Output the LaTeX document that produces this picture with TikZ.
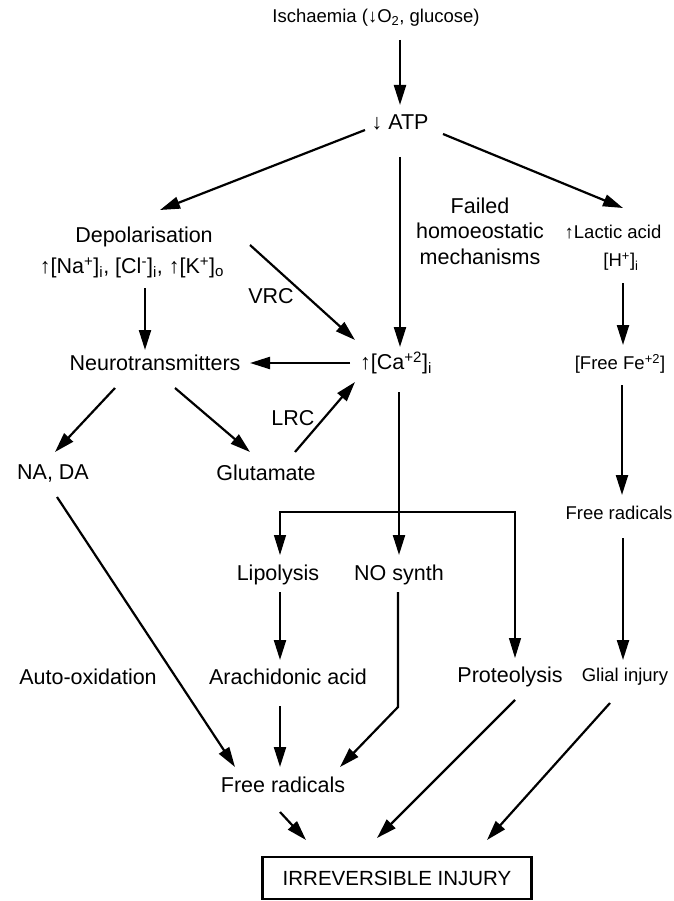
\documentclass[tikz,border=0pt]{standalone}
\usepackage{fontspec}
\setmainfont{Liberation Sans}
\usetikzlibrary{calc,arrows.meta}
\newcommand{\uparw}{{\bfseries ↑}}
\newcommand{\dnarw}{{\bfseries ↓}}
\tikzset{%
  lbl/.style={inner sep=0pt,font=\fontsize{21.5}{25.5}\selectfont},
  slbl/.style={inner sep=0pt,font=\fontsize{18.5}{22}\selectfont},
  arr/.style={draw,line width=2.2pt,-{Triangle[length=20pt,width=12pt]}},
  tarr/.style={draw,line width=1.3pt,-{Triangle[length=20pt,width=12pt]}},
  endbox/.style={draw,line width=2.2pt,inner sep=0pt,minimum width=269pt,minimum height=42pt,font=\fontsize{20.5}{24}\selectfont}
}

\begin{document}
\begin{tikzpicture}[x=1pt,y=-1pt]
    \useasboundingbox (0,0) rectangle (673,901);
    \path
      (376,18)  node (isch)[slbl]{Ischaemia (\dnarw O\textsubscript{2}, glucose)}
      (400,122) node (atp)[lbl]{\dnarw\ ATP}
      (144,237) node (depol)[lbl]{Depolarisation}
      (132,268) node (ions)[lbl]{\uparw[Na\textsuperscript{+}]\textsubscript{i}, [Cl\textsuperscript{-}]\textsubscript{i}, \uparw[K\textsuperscript{+}]\textsubscript{o}}
      (271,296) node (vrc)[lbl]{VRC}
      (480,231) node (failed)[lbl,align=center]{Failed\\homoeostatic\\mechanisms}
      (613,232) node (lactic)[slbl]{\uparw Lactic acid}
      (621,262) node (hplus)[slbl]{[H\textsuperscript{+}]\textsubscript{i}}
      (155,363) node (neuro)[lbl]{Neurotransmitters}
      (396,363) node (ca)[lbl]{\uparw[Ca\textsuperscript{+2}]\textsubscript{i}}
      (620,364) node (fe)[slbl]{[Free Fe\textsuperscript{+2}]}
      (53,473)  node (nada)[lbl]{NA, DA}
      (266,473) node (glut)[lbl]{Glutamate}
      (293,418) node (lrc)[lbl]{LRC}
      (619,513) node (fr2)[slbl]{Free radicals}
      (278,575) node (lipo)[lbl]{Lipolysis}
      (399,575) node (nosyn)[lbl]{NO synth}
      (88,677)  node (auto)[lbl]{Auto-oxidation}
      (288,677) node (arach)[lbl]{Arachidonic acid}
      (510,677) node (proteo)[lbl]{Proteolysis}
      (625,677) node (glial)[slbl]{Glial injury}
      (283,785) node (fr)[lbl]{Free radicals}
      (397,878) node (injury)[endbox]{IRREVERSIBLE INJURY};
    \coordinate (split) at (399,512);
    % top part
    \draw[arr] ($(isch)+(24,22)$) -- ($(atp)+(0,-17)$);
    \draw[arr] ($(atp)+(-35,8)$) -- ($(depol)+(16,-27)$);
    \draw[arr] ($(atp)+(43,12)$) -- ($(lactic)+(10,-24)$);
    \draw[arr] ($(atp)+(0,35)$) -- ($(ca)+(4,-16)$);
    \draw[arr] ($(ions)+(13,20)$) -- ($(neuro)+(-10,-13)$);
    \draw[arr] ($(depol)+(106,8)$) -- ($(ca)+(-41,-23)$);
    \draw[arr] ($(ca)+(-46,0)$) -- ($(neuro)+(95,0)$);
    \draw[arr] ($(hplus)+(2,21)$) -- ($(fe)+(3,-19)$);
    \draw[arr] ($(neuro)+(-40,25)$) -- ($(nada)+(2,-21)$);
    \draw[arr] ($(neuro)+(20,25)$) -- ($(glut)+(-16,-21)$);
    \draw[arr] ($(glut)+(29,-21)$) -- ($(ca)+(-41,19)$);
    \draw[arr] ($(fe)+(2,21)$) -- ($(fr2)+(3,-18)$);
    \draw[arr] ($(fr2)+(4,25)$) -- ($(glial)+(-2,-17)$);
    % calcium branches
    \draw[arr] ($(ca)+(3,29)$) -- ($(nosyn)+(0,-20)$);
    \draw[tarr] (split) -| ($(lipo)+(2,-20)$);
    \draw[tarr] (split) -| ($(proteo)+(5,-19)$);
    % lower part
    \draw[arr] ($(lipo)+(2,17)$) -- ($(arach)+(-8,-17)$);
    \draw[arr] ($(nada)+(4,24)$) -- ($(fr)+(-48,-18)$);
    \draw[arr] ($(arach)+(-8,29)$) -- ($(fr)+(-3,-18)$);
    \draw[arr] ($(nosyn)+(-1,17)$) -- ($(nosyn)+(-1,132)$) -- ($(fr)+(57,-18)$);
    \draw[arr] ($(fr)+(-3,27)$) -- ($(injury)+(-91,-38)$);
    \draw[arr] ($(proteo)+(5,23)$) -- ($(injury)+(-20,-40)$);
    \draw[arr] ($(glial)+(-15,26)$) -- ($(injury)+(90,-38)$);
\end{tikzpicture}
\end{document}
